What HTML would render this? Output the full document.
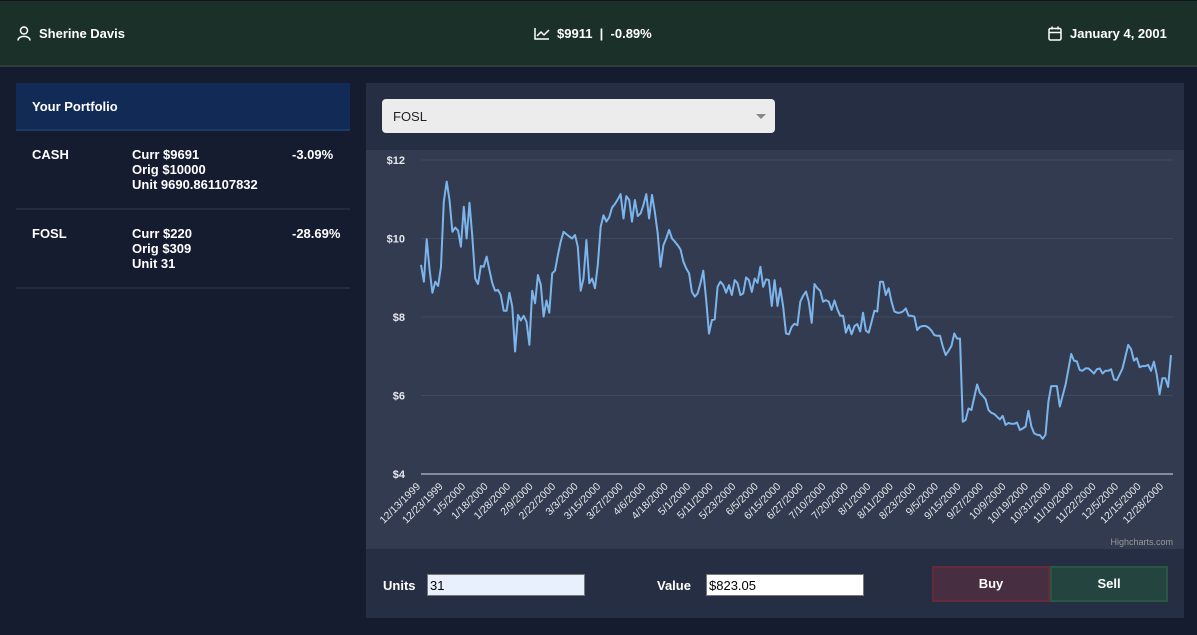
<!DOCTYPE html>
<html><head><meta charset="utf-8">
<style>
*{box-sizing:border-box;margin:0;padding:0}
body{width:1197px;height:635px;background:#151c30;font-family:"Liberation Sans",sans-serif;color:#fff;position:relative;overflow:hidden}
.hdr{position:absolute;left:0;top:0;width:1197px;height:67px;background:#1b3029;border-bottom:2px solid #2c3f3a;border-top:1px solid #10141c}
.hdr span{position:absolute;top:25px;font-size:13px;font-weight:bold}
.abs{position:absolute}
.pf{position:absolute;left:16px;top:83px;width:334px}
.pfh{height:48px;background:#112a56;border-bottom:2px solid #1d3a66;padding:16px;font-size:13px;font-weight:bold}
.row{position:relative;height:79px;border-bottom:2px solid #232c3e;font-size:13px;font-weight:bold}
.row div{position:absolute;top:16px;line-height:15px}
.card{position:absolute;left:366px;top:83px;width:818px;height:535px;background:#252e42}
</style></head><body>
<div class="hdr">
<svg class="abs" style="left:17px;top:25px" width="14" height="15" viewBox="0 0 14 15"><circle cx="7" cy="4.5" r="3.5" fill="none" stroke="#fff" stroke-width="1.5"/><path d="M1 14.5 C1 9 13 9 13 14.5" fill="none" stroke="#fff" stroke-width="1.5"/></svg>
<span style="left:39px">Sherine Davis</span>
<svg class="abs" style="left:534px;top:26px" width="16" height="13" viewBox="0 0 16 13"><path d="M1 1 V12 H15 M3 9 L7 5 L10 8 L15 3" fill="none" stroke="#fff" stroke-width="1.5"/></svg>
<span style="left:557px">$9911 &nbsp;|&nbsp; -0.89%</span>
<svg class="abs" style="left:1048px;top:25px" width="14" height="15" viewBox="0 0 14 15"><rect x="1" y="2.5" width="12" height="11.5" rx="1.5" fill="none" stroke="#fff" stroke-width="1.5"/><path d="M1 6.5 H13 M4 0.5 V3.5 M10 0.5 V3.5" stroke="#fff" stroke-width="1.5"/></svg>
<span style="left:1070px">January 4, 2001</span>
</div>

<div class="pf">
<div class="pfh">Your Portfolio</div>
<div class="row">
<div style="left:16px">CASH</div>
<div style="left:116px">Curr $9691<br>Orig $10000<br>Unit 9690.861107832</div>
<div style="left:276px">-3.09%</div></div>
<div class="row">
<div style="left:16px">FOSL</div>
<div style="left:116px">Curr $220<br>Orig $309<br>Unit 31</div>
<div style="left:276px">-28.69%</div></div>
</div>

<div class="card">
<div class="abs" style="left:16px;top:16px;width:393px;height:34px;background:#ececec;border-radius:4px;color:#222;font-size:13px;padding:10px 11px">FOSL
<svg class="abs" style="right:9px;top:15px" width="10" height="5"><path d="M0 0 H10 L5 5Z" fill="#888"/></svg></div>
<div class="abs" style="left:17px;top:495px;font-size:13px;font-weight:bold">Units</div>
<div class="abs" style="left:61px;top:491px;width:158px;height:22px;background:#e8f0fe;border:1px solid #777;color:#000;font-size:13px;padding:3px 2px">31</div>
<div class="abs" style="left:291px;top:495px;font-size:13px;font-weight:bold">Value</div>
<div class="abs" style="left:340px;top:491px;width:158px;height:22px;background:#fff;border:1px solid #777;color:#000;font-size:13px;padding:3px 2px">$823.05</div>
<div class="abs" style="left:566px;top:483px;width:118px;height:36px;background:#472e40;border:2px solid #652b3b;font-size:13px;font-weight:bold;text-align:center;line-height:32px">Buy</div>
<div class="abs" style="left:684px;top:483px;width:118px;height:36px;background:#23443f;border:2px solid #285844;font-size:13px;font-weight:bold;text-align:center;line-height:32px">Sell</div>
</div>

<svg class="abs" style="left:366px;top:150px" width="818" height="399" id="chart"></svg>

<script>
const yTicks=[4,6,8,10,12];
const dateLabels=["12/13/1999","12/23/1999","1/5/2000","1/18/2000","1/28/2000","2/9/2000","2/22/2000","3/3/2000","3/15/2000","3/27/2000","4/6/2000","4/18/2000","5/1/2000","5/11/2000","5/23/2000","6/5/2000","6/15/2000","6/27/2000","7/10/2000","7/20/2000","8/1/2000","8/11/2000","8/23/2000","9/5/2000","9/15/2000","9/27/2000","10/9/2000","10/19/2000","10/31/2000","11/10/2000","11/22/2000","12/5/2000","12/15/2000","12/28/2000"];
const pricesH1=[9.33,8.9,9.98,9.2,8.62,8.9,8.79,9.28,10.94,11.45,10.98,10.17,10.28,10.2,9.79,10.81,10.0,10.91,10.05,8.98,8.84,9.3,9.28,9.54,9.2,8.86,8.67,8.69,8.56,8.16,8.16,8.62,8.26,7.12,8.05,7.91,8.03,7.88,7.29,8.67,8.35,9.07,8.82,8.01,8.42,8.11,9.11,9.18,9.58,9.92,10.17,10.11,10.05,10.0,10.09,9.79,8.67,8.98,9.96,8.86,8.98,8.73,9.33,10.3,10.59,10.43,10.54,10.79,10.88,11.0,11.13,10.51,11.08,10.98,10.43,10.98,10.57,10.64,10.85,11.13,10.51,11.11,10.68,10.13,9.28,9.83,10.0,10.22,10.0,9.92,9.83,9.72,9.41,9.24,9.11,8.64,8.52,8.6,8.86,9.18,8.43,7.58,7.92,7.94,8.77,8.9,8.81,8.62,8.81,8.56,8.94,8.86,8.56,8.6,9.01,8.94,8.64,8.98,8.87,9.28,8.77,8.96,8.94,8.28,8.94,8.28,8.73,8.26];
const pricesH2=[7.58,7.56,7.75,7.83,7.79,8.39,8.54,8.65,8.39,7.85,8.84,8.73,8.67,8.39,8.43,8.39,8.18,8.42,8.2,8.03,8.03,7.6,7.79,7.56,7.77,7.82,7.63,8.11,7.65,7.6,7.88,8.16,8.14,8.9,8.9,8.56,8.73,8.39,8.14,8.11,8.11,8.14,8.22,8.03,8.03,8.01,7.67,7.75,7.77,7.77,7.73,7.65,7.54,7.52,7.52,7.24,7.03,7.14,7.26,7.58,7.45,7.45,5.33,5.38,5.67,5.63,5.95,6.28,6.07,5.99,5.9,5.63,5.56,5.53,5.46,5.39,5.48,5.25,5.3,5.28,5.28,5.31,5.12,5.16,5.21,5.61,5.22,5.04,5.0,4.99,4.9,5.0,5.84,6.24,6.24,6.24,5.72,5.99,6.27,6.65,7.06,6.89,6.87,6.65,6.63,6.69,6.69,6.63,6.56,6.67,6.69,6.56,6.63,6.63,6.67,6.41,6.39,6.54,6.69,6.99,7.29,7.18,6.89,6.95,6.72,6.75,6.75,6.78,6.63,6.86,6.54,6.03,6.44,6.44,6.22,7.03];
const prices=pricesH1.concat(pricesH2);
const svg=document.getElementById('chart');
const NS='http://www.w3.org/2000/svg';
const L=55,R=807,T=10,B=324,yMin=4,yMax=12;
const yS=v=>B-(v-yMin)/(yMax-yMin)*(B-T);
const xS=i=>L+i*(805-L)/(prices.length-1);
const lx=i=>L+i*(798-L)/(dateLabels.length-1);
function mk(t,a){const e=document.createElementNS(NS,t);for(const k in a)e.setAttribute(k,a[k]);svg.appendChild(e);return e;}
const bg=mk('rect',{x:0,y:0,width:818,height:399,fill:'#323b4f'});


yTicks.forEach(v=>{
 const g=mk('line',{x1:L,x2:R,y1:yS(v),y2:yS(v),stroke:v===4?'#d8dbe4':'#404a5e','stroke-width':1});
 
 
 const t=mk('text',{x:39,y:yS(v)+4,'text-anchor':'end',fill:'#e6e8ee','font-size':11,'font-weight':'bold','font-family':'Liberation Sans, sans-serif'});
 t.textContent='$'+v;
 
 
});
dateLabels.forEach((d,i)=>{
 const x=lx(i),y=337;
 const t=mk('text',{x:x,y:y,'text-anchor':'end',fill:'#e6e8ee','font-size':10.5,'font-family':'Liberation Sans, sans-serif',transform:`rotate(-45 ${x} ${y})`});
 t.textContent=d;
 
 
});
const line=mk('path',{d:prices.map((v,i)=>(i?'L':'M')+xS(i).toFixed(1)+' '+yS(v).toFixed(1)).join(''),fill:'none',stroke:'#7cb5ec','stroke-width':2,'stroke-linejoin':'round'});


const cr=mk('text',{x:807,y:395,'text-anchor':'end',fill:'#999','font-size':9,'font-family':'Liberation Sans, sans-serif'});
cr.textContent='Highcharts.com';


</script>
</body></html>
